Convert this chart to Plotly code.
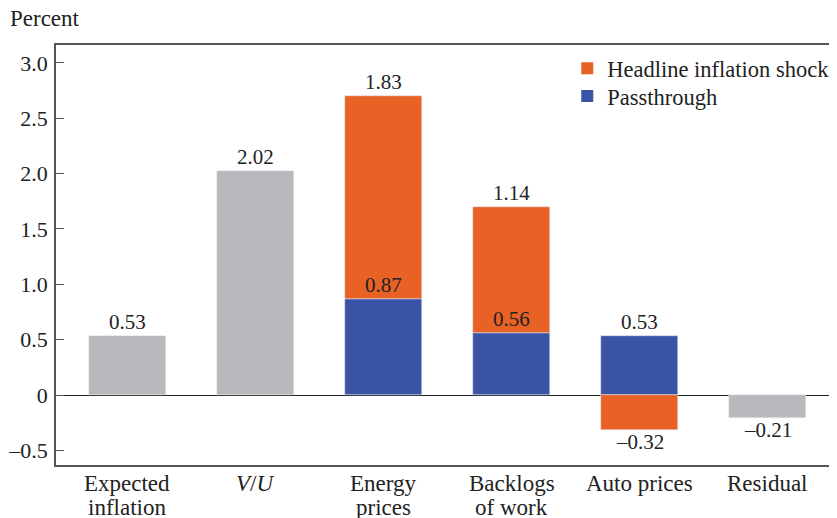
import plotly.graph_objects as go

# category labels: (first line, second line)
cat_line1 = ["Expected", "<i>V</i>/<i>U</i>", "Energy", "Backlogs", "Auto prices", "Residual"]
cat_line2 = ["inflation", "", "prices", "of work", "", ""]
gray_vals = [0.53, 2.02, None, None, None, -0.21]
pass_vals = [None, None, 0.87, 0.56, 0.53, None]
shock_vals = [None, None, 1.83, 1.14, -0.32, None]
tick_vals = [-0.5, 0, 0.5, 1.0, 1.5, 2.0, 2.5, 3.0]
tick_text = ["\u20130.5", "0", "0.5", "1.0", "1.5", "2.0", "2.5", "3.0"]

GRAY = "#B8B9BC"
BLUE = "#3A53A4"
ORANGE = "#E86226"
TXT = "#222"
FONT = "Liberation Serif"

x = list(range(len(cat_line1)))

fig = go.Figure()
fig.add_bar(x=x, y=gray_vals, marker_color=GRAY, width=0.6, showlegend=False)
fig.add_bar(x=x, y=pass_vals, marker_color=BLUE, width=0.6, showlegend=False)
fig.add_bar(x=x, y=shock_vals, marker_color=ORANGE, width=0.6, showlegend=False)

# legend entries (two legends to control row spacing)
fig.add_scatter(x=[None], y=[None], mode="markers", name="Headline inflation shock",
                marker=dict(symbol="square", size=16, color=ORANGE), legend="legend")
fig.add_scatter(x=[None], y=[None], mode="markers", name="Passthrough",
                marker=dict(symbol="square", size=16, color=BLUE), legend="legend2")

def fmt(v):
    s = f"{abs(v):.2f}"
    return ("\u2013" + s) if v < 0 else s

annots = []
for i in x:
    g, p, s = gray_vals[i], pass_vals[i], shock_vals[i]
    if g is not None:
        annots.append((i, g, fmt(g), "bottom" if g >= 0 else "top"))
    if p is not None:
        annots.append((i, p, fmt(p), "bottom"))
    if s is not None:
        if s >= 0:
            annots.append((i, (p or 0) + s, fmt(s), "bottom"))
        else:
            annots.append((i, s, fmt(s), "top"))

for (i, yv, t, anc) in annots:
    fig.add_annotation(x=i, y=yv, text=t, showarrow=False, yanchor=anc,
                       yshift=0 if anc == "bottom" else 2,
                       font=dict(family=FONT, size=21, color=TXT))

# category labels (two tight lines)
for i in x:
    fig.add_annotation(x=i, y=0, yref="paper", text=cat_line1[i], showarrow=False,
                       yanchor="middle", yshift=-18,
                       font=dict(family=FONT, size=23, color=TXT))
    if cat_line2[i]:
        fig.add_annotation(x=i, y=0, yref="paper", text=cat_line2[i], showarrow=False,
                           yanchor="middle", yshift=-42,
                           font=dict(family=FONT, size=23, color=TXT))

fig.add_annotation(xref="paper", yref="paper", x=-0.0615, y=1.064, text="Percent",
                   showarrow=False, xanchor="left", yanchor="middle",
                   font=dict(family=FONT, size=23, color=TXT))

leg_common = dict(xanchor="left", yanchor="top", bgcolor="rgba(0,0,0,0)",
                  font=dict(family=FONT, size=22.5, color=TXT), itemsizing="constant")

# page body adds an 8px offset: figure is sized to the visible area
fig.update_layout(
    width=829, height=510,
    margin=dict(l=48, r=0, t=37, b=53, autoexpand=False),
    barmode="relative",
    bargap=0,
    plot_bgcolor="white", paper_bgcolor="white",
    font=dict(family=FONT, size=22, color=TXT),
    legend=dict(x=0.6546, y=0.995, **leg_common),
    legend2=dict(x=0.6546, y=0.9286, **leg_common),
)
fig.update_xaxes(range=[-0.555, 5.54], tickvals=x, showticklabels=False,
                 showline=True, mirror=True, linecolor="#555", linewidth=1.5,
                 showgrid=False, ticks="", automargin=False)
fig.update_yaxes(range=[-0.632, 3.162], tickvals=tick_vals, ticktext=tick_text,
                 showline=True, linecolor="#555", linewidth=1.5, showgrid=False,
                 ticks="inside", ticklen=8, tickcolor="#555", automargin=False,
                 ticklabelstandoff=2,
                 zeroline=True, zerolinecolor="#222", zerolinewidth=1.2,
                 tickfont=dict(family=FONT, size=22, color=TXT))

fig.write_html("out.html")
